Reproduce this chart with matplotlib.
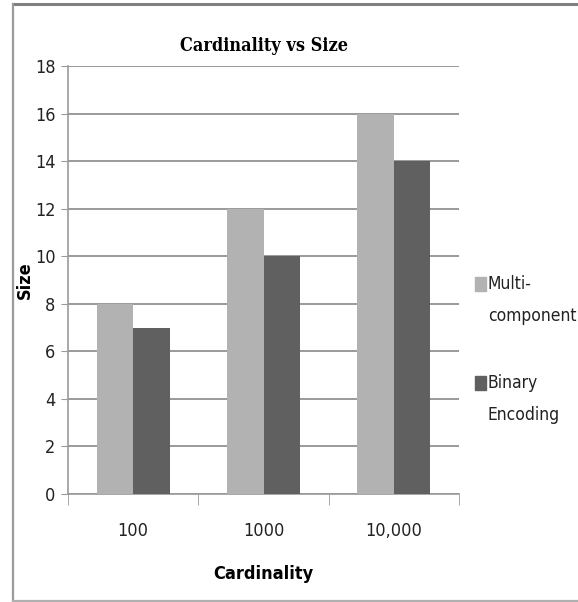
import numpy as np
import matplotlib
matplotlib.use("Agg")
import matplotlib.pyplot as plt
from matplotlib.lines import Line2D
from matplotlib.patches import Rectangle

# %% DATA
categories = ["100", "1000", "10,000"]
multi_component = [8, 12, 16]
binary_encoding = [7, 10, 14]
series_names = ["Multi-\ncomponent", "Binary\nEncoding"]
yticks = list(range(0, 19, 2))

# %% STYLE
light = "#b2b2b2"
dark = "#606060"
grid_col = "#9a9a9a"
sans = dict(family=["DejaVu Sans"], fontstretch="condensed")
serif = dict(family=["DejaVu Serif"], fontstretch="condensed")

fig = plt.figure(figsize=(5.78, 6.02), dpi=100)
ax = fig.add_axes([68 / 578, 1 - 494 / 602, (459 - 68) / 578, (494 - 66) / 602])

x = np.arange(len(categories))
w = 0.28
ax.bar(x - w / 2, multi_component, w, color=light, zorder=3)
ax.bar(x + w / 2, binary_encoding, w, color=dark, zorder=3)

ax.set_xlim(-0.5, len(categories) - 0.5)
ax.set_ylim(0, 18)
ax.set_yticks(yticks)
ax.set_yticklabels([str(t) for t in yticks], fontsize=13, color="#222222", **sans)
ax.yaxis.grid(True, color=grid_col, linewidth=1.4, zorder=0)
ax.tick_params(axis="y", length=5, color=grid_col, pad=4)

ax.set_xticks(x)
ax.set_xticklabels(categories, fontsize=13, color="#222222", **sans)
ax.set_xticks(np.arange(-0.5, len(categories)), minor=True)
ax.tick_params(axis="x", which="major", length=0, pad=20)
ax.tick_params(axis="x", which="minor", length=8, color=grid_col)

for side in ["top", "right"]:
    ax.spines[side].set_visible(False)
for side in ["left", "bottom"]:
    ax.spines[side].set_color(grid_col)
    ax.spines[side].set_linewidth(1.2)

ax.set_title("Cardinality vs Size", fontweight="bold", fontsize=13, pad=11, **serif)
ax.set_xlabel("Cardinality", fontweight="bold", fontsize=13, labelpad=18, **sans)
ax.set_ylabel("Size", fontweight="bold", fontsize=13, **sans)
ax.yaxis.set_label_coords(-0.088, 0.5)

# legend on the right, square beside the first line of each label
for col, name, ytop in [(light, series_names[0], 277), (dark, series_names[1], 376)]:
    fig.patches.append(Rectangle((475 / 578, 1 - (ytop + 14) / 602), 11 / 578, 14 / 602,
                                 transform=fig.transFigure, color=col))
    fig.text(488 / 578, 1 - (ytop - 2) / 602, name, fontsize=12.5,
             color="#222222", va="top", ha="left", linespacing=2.0, **sans)

# outer frame
fig.add_artist(Line2D([13 / 578, 1], [1 - 4 / 602, 1 - 4 / 602], color="#808080", lw=2.2))
fig.add_artist(Line2D([13 / 578, 13 / 578], [1 - 4 / 602, 1 - 601 / 602], color="#9a9a9a", lw=1.6))
fig.add_artist(Line2D([13 / 578, 1], [1 - 601 / 602, 1 - 601 / 602], color="#b0b0b0", lw=1.6))

fig.savefig("out.png", dpi=100)
